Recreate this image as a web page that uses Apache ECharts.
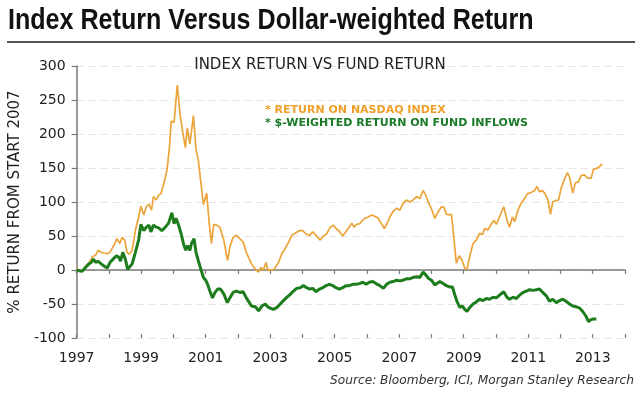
<!DOCTYPE html>
<html>
<head>
<meta charset="utf-8">
<script src="https://cdn.jsdelivr.net/npm/echarts@6/dist/echarts.min.js"></script>
<style>
html,body{margin:0;padding:0;background:#fff;}
#chart{width:640px;height:394px;}
</style>
</head>
<body>
<div id="chart"></div>
<script>
// ---- Data ----
const mainTitle = 'Index Return Versus Dollar-weighted Return';
const subTitle = 'INDEX RETURN VS FUND RETURN';
const yAxisTitle = '% RETURN FROM START 2007';
const sourceNote = 'Source: Bloomberg, ICI, Morgan Stanley Research';
const seriesNames = ['RETURN ON NASDAQ INDEX', '$-WEIGHTED RETURN ON FUND INFLOWS'];
const yearTicks = [1997, 1998, 1999, 2000, 2001, 2002, 2003, 2004, 2005, 2006, 2007, 2008, 2009, 2010, 2011, 2012, 2013, 2014];
const yTicks = [-100, -50, 0, 50, 100, 150, 200, 250, 300];

const nasdaqYears = [1997.00,1997.07,1997.17,1997.28,1997.38,1997.48,1997.59,1997.66,1997.76,1997.84,1997.95,1998.03,1998.15,1998.25,1998.34,1998.41,1998.49,1998.56,1998.63,1998.72,1998.82,1998.92,1998.99,1999.08,1999.16,1999.24,1999.32,1999.38,1999.47,1999.54,1999.61,1999.69,1999.80,1999.88,1999.93,2000.02,2000.12,2000.21,2000.29,2000.37,2000.43,2000.51,2000.62,2000.70,2000.77,2000.84,2000.93,2001.03,2001.11,2001.18,2001.25,2001.34,2001.44,2001.56,2001.68,2001.75,2001.85,2001.95,2002.06,2002.16,2002.26,2002.42,2002.54,2002.64,2002.71,2002.79,2002.87,2002.93,2003.00,2003.12,2003.26,2003.36,2003.46,2003.57,2003.67,2003.77,2003.91,2004.01,2004.11,2004.22,2004.32,2004.42,2004.55,2004.65,2004.75,2004.86,2004.96,2005.04,2005.14,2005.25,2005.37,2005.45,2005.53,2005.60,2005.68,2005.78,2005.86,2005.94,2006.04,2006.14,2006.24,2006.35,2006.45,2006.54,2006.62,2006.71,2006.81,2006.92,2007.02,2007.12,2007.22,2007.33,2007.43,2007.54,2007.64,2007.74,2007.82,2007.90,2008.00,2008.10,2008.21,2008.31,2008.39,2008.46,2008.55,2008.62,2008.69,2008.77,2008.86,2008.95,2009.03,2009.10,2009.19,2009.29,2009.39,2009.49,2009.58,2009.65,2009.75,2009.86,2009.94,2010.01,2010.11,2010.24,2010.34,2010.42,2010.51,2010.58,2010.68,2010.78,2010.89,2010.97,2011.09,2011.20,2011.27,2011.35,2011.43,2011.51,2011.61,2011.69,2011.76,2011.84,2011.94,2012.02,2012.12,2012.21,2012.28,2012.38,2012.46,2012.56,2012.64,2012.74,2012.84,2012.95,2013.02,2013.10,2013.21,2013.29];
const nasdaqReturns = [3,-1,-2,6,10,19,22,29,26,25,24,26,36,46,39,48,44,26,23,29,58,78,94,81,93,97,88,108,103,110,112,125,147,182,219,217,272,227,202,180,209,185,227,177,162,133,96,113,68,39,67,66,63,44,14,34,48,51,46,41,26,9,1,-3,4,0,11,-1,0,1,11,24,31,41,51,54,58,58,53,51,56,51,44,50,53,63,66,61,57,50,58,63,69,63,67,68,73,76,78,81,79,76,68,61,68,78,86,91,88,98,103,100,103,108,105,117,110,100,90,76,86,93,92,82,81,82,49,10,21,14,3,1,21,39,44,54,52,61,59,68,73,67,78,93,74,63,78,71,88,98,105,112,114,117,123,115,117,113,103,82,100,102,103,120,133,143,137,113,128,130,139,140,135,135,148,149,152,156];

const fundYears = [1997.00,1997.07,1997.17,1997.28,1997.38,1997.45,1997.52,1997.59,1997.66,1997.76,1997.84,1997.95,1998.03,1998.13,1998.23,1998.30,1998.36,1998.43,1998.51,1998.58,1998.64,1998.72,1998.82,1998.92,1998.99,1999.08,1999.16,1999.24,1999.30,1999.38,1999.47,1999.54,1999.64,1999.75,1999.85,1999.95,2000.02,2000.08,2000.16,2000.24,2000.31,2000.38,2000.44,2000.51,2000.56,2000.64,2000.70,2000.77,2000.85,2000.93,2001.00,2001.06,2001.13,2001.21,2001.29,2001.37,2001.46,2001.56,2001.67,2001.75,2001.85,2001.95,2002.06,2002.16,2002.26,2002.42,2002.54,2002.64,2002.74,2002.85,2002.92,2003.00,2003.10,2003.21,2003.31,2003.41,2003.52,2003.62,2003.72,2003.82,2003.93,2004.03,2004.13,2004.22,2004.32,2004.42,2004.53,2004.63,2004.73,2004.84,2004.94,2005.04,2005.14,2005.25,2005.35,2005.45,2005.56,2005.66,2005.77,2005.87,2005.97,2006.07,2006.18,2006.28,2006.40,2006.51,2006.61,2006.71,2006.81,2006.92,2007.02,2007.12,2007.22,2007.33,2007.43,2007.54,2007.64,2007.74,2007.82,2007.90,2008.00,2008.10,2008.15,2008.26,2008.36,2008.46,2008.57,2008.65,2008.72,2008.79,2008.88,2008.96,2009.03,2009.10,2009.19,2009.29,2009.39,2009.49,2009.60,2009.70,2009.80,2009.91,2010.01,2010.11,2010.24,2010.34,2010.42,2010.53,2010.63,2010.73,2010.84,2010.94,2011.04,2011.14,2011.25,2011.35,2011.45,2011.56,2011.66,2011.76,2011.87,2011.97,2012.07,2012.17,2012.28,2012.38,2012.48,2012.59,2012.69,2012.79,2012.87,2012.94,2013.02,2013.11];
const fundReturns = [0,-1,-2,4,9,11,16,11,13,9,6,3,11,16,21,19,13,26,16,1,0,9,26,44,67,58,63,66,56,66,63,62,58,63,69,84,68,76,66,53,39,29,36,29,39,46,26,14,1,-11,-15,-21,-31,-41,-33,-28,-28,-35,-48,-41,-33,-31,-33,-32,-41,-53,-54,-60,-53,-50,-54,-56,-58,-55,-50,-45,-40,-36,-31,-27,-26,-23,-26,-28,-27,-32,-28,-26,-23,-21,-23,-26,-28,-26,-23,-23,-21,-21,-20,-18,-21,-18,-17,-20,-23,-27,-21,-18,-17,-15,-16,-15,-13,-13,-11,-10,-11,-3,-7,-12,-15,-22,-21,-17,-20,-23,-25,-25,-36,-46,-55,-53,-58,-61,-55,-50,-47,-43,-45,-42,-43,-40,-41,-37,-32,-40,-43,-40,-42,-37,-33,-31,-29,-30,-29,-28,-33,-38,-46,-43,-48,-45,-43,-46,-50,-53,-54,-56,-61,-68,-76,-73,-72,-72];

// ---- Chart ----
const ORANGE = '#eba43a';
const ORANGE_TXT = '#f0a028';
const GREEN = '#1d7d1d';
const GREEN_TXT = '#1a7a28';
const AXIS = '#7a7a7a';
const FONT = '"DejaVu Sans", Verdana, sans-serif';

const chart = echarts.init(document.getElementById('chart'), null, {renderer: 'canvas'});
const xMin = yearTicks[0], xMax = yearTicks[yearTicks.length - 1];
const yMin = yTicks[0], yMax = yTicks[yTicks.length - 1];

const option = {
  backgroundColor: '#ffffff',
  animation: false,
  title: [{
    text: subTitle,
    left: 'center',
    top: 53,
    textStyle: {fontFamily: FONT, fontSize: 15, fontWeight: 'normal', color: '#222'}
  }],
  graphic: [
    {type: 'text', x: 8, y: 21, scaleX: 0.865, originX: 0, originY: 0,
     style: {text: mainTitle, font: 'bold 29px "Liberation Sans", Arial, sans-serif', fill: '#111', textAlign: 'left', textVerticalAlign: 'middle'}},
    {type: 'line', shape: {x1: 7, y1: 42, x2: 635, y2: 42}, style: {stroke: '#555', lineWidth: 2}},
    {type: 'text', x: 634, y: 381,
     style: {text: sourceNote, font: 'italic 12.2px "DejaVu Sans", Verdana, sans-serif', fill: '#333', textAlign: 'right', textVerticalAlign: 'middle'}}
  ],
  legend: {
    orient: 'vertical',
    left: 255,
    top: 98,
    itemGap: 1,
    itemWidth: 0,
    itemHeight: 14,
    icon: 'none',
    selectedMode: false,
    formatter: n => '* ' + n,
    textStyle: {fontFamily: FONT, fontSize: 11, fontWeight: 'bold'},
    data: [
      {name: seriesNames[0], textStyle: {color: ORANGE_TXT}},
      {name: seriesNames[1], textStyle: {color: GREEN_TXT}}
    ]
  },
  grid: {left: 76, right: 15, top: 66, bottom: 56, containLabel: false},
  xAxis: [
    { // labels at the bottom
      type: 'value', min: xMin, max: xMax, interval: 1,
      position: 'bottom',
      axisLine: {show: false, onZero: false},
      axisTick: {show: false},
      splitLine: {show: false},
      axisLabel: {
        margin: 13, fontFamily: FONT, fontSize: 14, color: '#222',
        formatter: v => ((v - xMin) % 2 === 0 && v < xMax) ? String(v) : ''
      }
    },
    { // zero line with downward ticks
      type: 'value', min: xMin, max: xMax, interval: 1,
      position: 'bottom',
      axisLine: {show: true, onZero: true, lineStyle: {color: AXIS, width: 1.5}},
      axisTick: {show: true, inside: false, length: 4, lineStyle: {color: AXIS, width: 1.2}},
      axisLabel: {show: false},
      splitLine: {show: false}
    },
    { // upward ticks
      type: 'value', min: xMin, max: xMax, interval: 1,
      position: 'bottom',
      axisLine: {show: false, onZero: true},
      axisTick: {show: true, inside: true, length: 4, lineStyle: {color: AXIS, width: 1.2}},
      axisLabel: {show: false},
      splitLine: {show: false}
    }
  ],
  yAxis: {
    type: 'value', min: yMin, max: yMax, interval: 50,
    name: yAxisTitle,
    nameLocation: 'middle',
    nameRotate: 90,
    nameGap: 50,
    nameTextStyle: {fontFamily: FONT, fontSize: 15, color: '#222'},
    axisLine: {show: true, onZero: false, lineStyle: {color: AXIS, width: 1.5}},
    axisTick: {show: true, inside: false, length: 5, lineStyle: {color: AXIS, width: 1.2}},
    axisLabel: {margin: 11, fontFamily: FONT, fontSize: 14, color: '#222'},
    splitLine: {show: true, lineStyle: {color: '#e4e4e4', width: 1, type: [7, 5]}}
  },
  series: [
    {
      name: seriesNames[0], type: 'line', xAxisIndex: 1,
      data: nasdaqYears.map((x, i) => [x, nasdaqReturns[i]]),
      showSymbol: false, symbol: 'none',
      lineStyle: {color: ORANGE, width: 1.7},
      itemStyle: {color: ORANGE},
      z: 2
    },
    {
      name: seriesNames[1], type: 'line', xAxisIndex: 1,
      data: fundYears.map((x, i) => [x, fundReturns[i]]),
      showSymbol: false, symbol: 'none',
      lineStyle: {color: GREEN, width: 3},
      itemStyle: {color: GREEN},
      z: 3
    }
  ]
};
chart.setOption(option);
</script>
</body>
</html>
